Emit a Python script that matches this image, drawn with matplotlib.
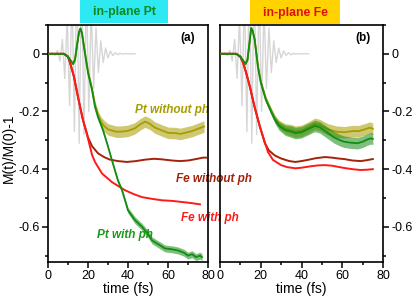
import numpy as np
import matplotlib
matplotlib.use('Agg')
import matplotlib.pyplot as plt
from matplotlib.patches import Rectangle
from matplotlib.ticker import MultipleLocator

plt.rcParams['font.family'] = ['Liberation Sans', 'DejaVu Sans']
plt.rcParams['axes.unicode_minus'] = False

# laser field (grey), extrema of the oscillation
pulse_t = [0, 2.4, 3.6, 4.8, 6.0, 7.2, 8.4, 9.6, 10.8, 12.0, 13.2, 14.4, 15.6, 16.8, 18.0, 19.2, 20.4,
           21.6, 22.8, 24.0, 25.2, 26.4, 27.6, 28.8, 30.0, 31.2, 32.4, 33.6, 34.8, 36.0, 37.2, 38.4, 40, 43.5]
pulse_v = [0, 0.003, -0.006, 0.012, -0.025, 0.05, -0.085, 0.13, -0.18, 0.23, -0.27, 0.3, -0.31, 0.3,
           -0.28, 0.24, -0.2, 0.16, -0.12, 0.09, -0.065, 0.045, -0.03, 0.02, -0.014, 0.01, -0.006, 0.004,
           -0.003, 0.002, -0.001, 0.0005, 0, 0]

# ---- panel (a): in-plane Pt
pt_green_t = [0, 8, 10, 11.5, 12.5, 13.5, 14.5, 15.5, 16.2, 17, 18.5, 20, 22, 23.5, 25, 27.5, 29.5, 32,
              35, 37, 40, 43.5, 47, 50, 52, 55, 58.5, 62, 65, 68, 70, 72, 74, 76, 77]
pt_green_v = [0, 0, -0.01, -0.025, -0.035, -0.02, 0.03, 0.075, 0.088, 0.07, 0.0, -0.066, -0.125, -0.184,
              -0.22, -0.265, -0.31, -0.37, -0.44, -0.473, -0.543, -0.577, -0.60, -0.625, -0.647, -0.66,
              -0.675, -0.678, -0.682, -0.69, -0.70, -0.695, -0.705, -0.70, -0.705]
pt_green_s = [0.002, 0.002, 0.003, 0.003, 0.003, 0.003, 0.004, 0.004, 0.004, 0.004, 0.004, 0.004, 0.005,
              0.005, 0.006, 0.006, 0.006, 0.006, 0.007, 0.008, 0.01, 0.012, 0.012, 0.012, 0.012, 0.012,
              0.012, 0.012, 0.012, 0.012, 0.012, 0.012, 0.012, 0.012, 0.012]

pt_olive_t = [0, 8, 10, 11.5, 12.5, 13.5, 14.5, 15.5, 16.2, 17, 18.5, 20, 22, 23.5, 25, 26.5, 28, 30, 32,
              34, 36.5, 40, 43.5, 46, 48.5, 51, 53.5, 57, 60, 64, 66, 68.5, 72, 75, 78]
pt_olive_v = [0, 0, -0.01, -0.025, -0.035, -0.02, 0.03, 0.075, 0.088, 0.072, 0.005, -0.06, -0.12, -0.175,
              -0.21, -0.235, -0.25, -0.262, -0.266, -0.27, -0.27, -0.267, -0.258, -0.245, -0.235, -0.243,
              -0.256, -0.266, -0.274, -0.275, -0.278, -0.274, -0.268, -0.26, -0.252]
pt_olive_s = [0.002, 0.002, 0.003, 0.003, 0.003, 0.003, 0.004, 0.004, 0.004, 0.004, 0.004, 0.005, 0.006,
              0.008, 0.012, 0.016, 0.02, 0.02, 0.02, 0.02, 0.02, 0.02, 0.02, 0.02, 0.02, 0.02, 0.02, 0.02,
              0.02, 0.02, 0.02, 0.02, 0.02, 0.02, 0.02]

pt_brown_t = [0, 8, 10, 11, 13, 15, 17.5, 19, 20, 22, 25, 28, 31, 35, 39.5, 44, 48.5, 53, 57, 62, 66, 70,
              74, 77.5, 79]
pt_brown_v = [0, 0, -0.01, -0.03, -0.08, -0.15, -0.23, -0.265, -0.29, -0.32, -0.345, -0.358, -0.367,
              -0.372, -0.375, -0.372, -0.367, -0.364, -0.366, -0.37, -0.372, -0.37, -0.365, -0.36, -0.36]

pt_red_t = [0, 8, 10, 11, 13, 15, 17.5, 19.5, 22, 23.5, 27, 32, 38.5, 43, 47, 52, 57, 62, 68.5, 72, 76]
pt_red_v = [0, 0, -0.01, -0.03, -0.08, -0.15, -0.23, -0.28, -0.35, -0.375, -0.415, -0.445, -0.473,
            -0.487, -0.497, -0.503, -0.508, -0.51, -0.515, -0.518, -0.522]

# ---- panel (b): in-plane Fe
fe_green_t = [0, 8, 10, 11.5, 12.5, 13.5, 14.5, 15.3, 16, 17, 18.6, 20, 22.5, 25, 27, 29, 32, 35, 37, 40,
              43, 46.5, 49, 51, 53, 56, 59, 61, 64, 67.5, 70, 72, 74, 75]
fe_green_v = [0, 0, -0.01, -0.025, -0.035, -0.02, 0.04, 0.09, 0.08, 0.05, -0.045, -0.10, -0.16, -0.2,
              -0.23, -0.25, -0.265, -0.27, -0.275, -0.272, -0.262, -0.25, -0.255, -0.265, -0.275, -0.29,
              -0.3, -0.305, -0.308, -0.31, -0.305, -0.298, -0.293, -0.295]
fe_green_s = [0.002, 0.002, 0.003, 0.003, 0.003, 0.004, 0.004, 0.004, 0.005, 0.005, 0.006, 0.006, 0.008,
              0.01, 0.012, 0.015, 0.018, 0.02, 0.02, 0.02, 0.02, 0.02, 0.02, 0.02, 0.02, 0.02, 0.02, 0.02,
              0.02, 0.02, 0.02, 0.02, 0.02, 0.02]

fe_olive_t = [0, 8, 10, 11.5, 12.5, 13.5, 14.5, 15.3, 16, 17, 18.6, 20, 22.5, 25, 27, 29, 32, 35, 37, 40,
              43, 46.5, 49, 51, 53, 57, 61, 65, 68, 71, 73.5, 75]
fe_olive_v = [0, 0, -0.01, -0.025, -0.035, -0.02, 0.04, 0.088, 0.08, 0.05, -0.04, -0.095, -0.155, -0.195,
              -0.225, -0.245, -0.26, -0.265, -0.27, -0.267, -0.257, -0.243, -0.247, -0.255, -0.262, -0.27,
              -0.272, -0.268, -0.268, -0.262, -0.256, -0.26]
fe_olive_s = [0.002, 0.002, 0.003, 0.003, 0.003, 0.004, 0.004, 0.004, 0.005, 0.005, 0.006, 0.006, 0.008,
              0.01, 0.012, 0.015, 0.018, 0.02, 0.02, 0.02, 0.02, 0.02, 0.02, 0.02, 0.02, 0.02, 0.02, 0.02,
              0.02, 0.02, 0.02, 0.02]

fe_brown_t = [0, 8, 10, 11.3, 13, 14.7, 17, 19.6, 22, 24, 27, 30, 34, 37, 40, 43, 47, 51.5, 55, 58, 61,
              65, 69, 72, 75]
fe_brown_v = [0, 0, -0.01, -0.03, -0.07, -0.115, -0.185, -0.253, -0.31, -0.335, -0.353, -0.363, -0.372,
              -0.375, -0.372, -0.368, -0.362, -0.358, -0.36, -0.363, -0.365, -0.37, -0.372, -0.369, -0.365]

fe_red_t = [0, 8, 10, 11.3, 13, 14.7, 17, 19.6, 21.5, 23.5, 26, 30, 33, 37, 40, 44.5, 48, 51.5, 55, 58,
            61, 65, 69, 72, 75]
fe_red_v = [0, 0, -0.01, -0.03, -0.07, -0.115, -0.185, -0.253, -0.295, -0.34, -0.368, -0.386, -0.393,
            -0.397, -0.395, -0.39, -0.387, -0.386, -0.388, -0.392, -0.396, -0.4, -0.403, -0.402, -0.40]

xtick_vals = [0, 20, 40, 60, 80]
ytick_vals = [0, -0.2, -0.4, -0.6]
ytick_labels = ['0', '-0.2', '-0.4', '-0.6']

GRAY = '#d6d6d6'
GREEN = '#148c14'
OLIVE = '#a89c00'
BROWN = '#a3230a'
RED = '#ff1a1a'

W, H = 415, 299


#...!...!....................
def plot_panel(ax, olive, green, brown, red, label, tick_side):
    ax.plot(pulse_t, pulse_v, color=GRAY, lw=1.0, zorder=1)
    for (t, v, s), col, z in [(olive, OLIVE, 2), (green, GREEN, 3)]:
        t, v, s = np.array(t), np.array(v), np.array(s)
        ax.fill_between(t, v - s, v + s, color=col, alpha=0.55, lw=0, zorder=z)
        ax.plot(t, v, color=col, lw=1.3, zorder=z)
    ax.plot(brown[0], brown[1], color=BROWN, lw=1.4, zorder=2.5)
    ax.plot(red[0], red[1], color=RED, lw=1.4, zorder=2.6)

    ax.set_xlim(0, 80)
    ax.set_ylim(-0.722, 0.1)
    ax.set_xticks(xtick_vals)
    ax.set_yticks(ytick_vals)
    ax.set_yticklabels(ytick_labels)
    ax.xaxis.set_minor_locator(MultipleLocator(10))
    ax.yaxis.set_minor_locator(MultipleLocator(0.1))
    ax.xaxis.set_ticks_position('bottom')
    ax.yaxis.set_ticks_position(tick_side)
    ax.tick_params(which='major', direction='out', length=4.5, width=1.1, labelsize=9, pad=1.5)
    ax.tick_params(which='minor', direction='out', length=2.5, width=1.1)
    for sp in ax.spines.values():
        sp.set_linewidth(1.2)
    ax.set_xlabel('time (fs)', fontsize=10, labelpad=0)
    ax.text(0.875, 0.945, label, transform=ax.transAxes, ha='center', va='center',
            fontsize=8.5, fontweight='bold')
    ax.patch.set_visible(False)


fig = plt.figure(figsize=(W / 100, H / 100), dpi=100, facecolor='white')
ax1 = fig.add_axes([48 / W, 1 - 262 / H, 160 / W, 237 / H])
ax2 = fig.add_axes([220 / W, 1 - 262 / H, 163 / W, 237 / H])

plot_panel(ax1, (pt_olive_t, pt_olive_v, pt_olive_s), (pt_green_t, pt_green_v, pt_green_s),
           (pt_brown_t, pt_brown_v), (pt_red_t, pt_red_v), '(a)', 'left')
plot_panel(ax2, (fe_olive_t, fe_olive_v, fe_olive_s), (fe_green_t, fe_green_v, fe_green_s),
           (fe_brown_t, fe_brown_v), (fe_red_t, fe_red_v), '(b)', 'right')

fig.text(9 / W, 1 - 148 / H, 'M(t)/M(0)-1', rotation=90, ha='center', va='center', fontsize=10)

# title boxes
fig.patches.append(Rectangle((80 / W, 1 - 23 / H), 88 / W, 23 / H, transform=fig.transFigure,
                             facecolor='#2ee8f2', edgecolor='none'))
fig.patches.append(Rectangle((250 / W, 1 - 24 / H), 90 / W, 24 / H, transform=fig.transFigure,
                             facecolor='#ffd200', edgecolor='none'))
fig.text(124 / W, 1 - 12 / H, 'in-plane Pt', ha='center', va='center', fontsize=8.8,
         fontweight='bold', color='#0a8a1a')
fig.text(295 / W, 1 - 13 / H, 'in-plane Fe', ha='center', va='center', fontsize=8.8,
         fontweight='bold', color='#e01010')

# curve annotations (behind the spines)
notes = [('Pt without ph', 135, 110, OLIVE), ('Fe without ph', 176, 179, BROWN),
         ('Fe with ph', 181, 218, RED), ('Pt with ph', 97, 235, '#1a9a1a')]
for txt, px, py, col in notes:
    fig.text(px / W, 1 - py / H, txt, ha='left', va='center', fontsize=8.5, fontweight='bold',
             fontstyle='italic', color=col, zorder=-1)

fig.savefig('out.png', dpi=100, facecolor='white')
